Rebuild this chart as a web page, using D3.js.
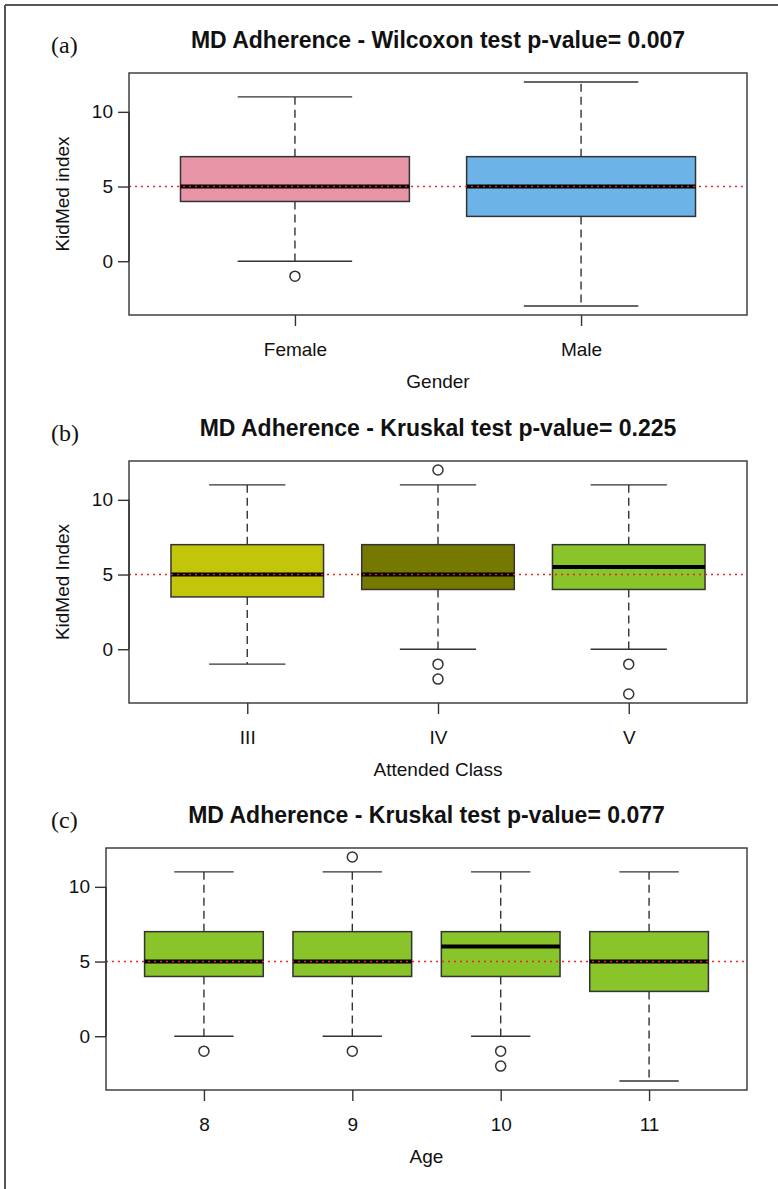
<!DOCTYPE html>
<html><head><meta charset="utf-8">
<script src="https://cdn.jsdelivr.net/npm/d3@7"></script>
<style>body{margin:0;background:#fff}svg{display:block}</style>
</head><body>
<svg id="c" width="778" height="1189"></svg>
<script>
// ---- data ----
const panelLetters = ["(a)", "(b)", "(c)"];
const titles = [
  "MD Adherence - Wilcoxon test p-value= 0.007",
  "MD Adherence - Kruskal test p-value= 0.225",
  "MD Adherence - Kruskal test p-value= 0.077"
];
const xTitles = ["Gender", "Attended Class", "Age"];
const yTitles = ["KidMed index", "KidMed Index", ""];
const yTicks = [0, 5, 10];

const genderCats = ["Female", "Male"];
// [lowWhisker, q1, median, q3, highWhisker]
const genderStats = [[0, 4, 5, 7, 11], [-3, 3, 5, 7, 12]];
const genderOut = [[-1], []];
const genderColors = ["#E896A7", "#6CB4E8"];

const classCats = ["III", "IV", "V"];
const classStats = [[-1, 3.5, 5, 7, 11], [0, 4, 5, 7, 11], [0, 4, 5.5, 7, 11]];
const classOut = [[], [12, -1, -2], [-1, -3]];
const classColors = ["#C2C50A", "#767900", "#88C42A"];

const ageCats = ["8", "9", "10", "11"];
const ageStats = [[0, 4, 5, 7, 11], [0, 4, 5, 7, 11], [0, 4, 6, 7, 11], [-3, 3, 5, 7, 11]];
const ageOut = [[-1], [12, -1], [-1, -2], []];
const ageColors = ["#88C42A", "#88C42A", "#88C42A", "#88C42A"];

const refLine = 5;
const yDomain = [-3.6, 12.6];

// ---- layout ----
const panels = [
  {cats: genderCats, stats: genderStats, out: genderOut, colors: genderColors, left: 129, top: 73},
  {cats: classCats, stats: classStats, out: classOut, colors: classColors, left: 129, top: 461},
  {cats: ageCats, stats: ageStats, out: ageOut, colors: ageColors, left: 106, top: 848}
];
const right = 747, plotH = 242;
const svg = d3.select("#c");
const sans = "Liberation Sans, Arial, Helvetica, sans-serif";
const ink = "#333";
const fs = 19;

// outer frame (cropped)
svg.append("line").attr("x1", 5).attr("x2", 778).attr("y1", 5).attr("y2", 5).attr("stroke", "#555").attr("stroke-width", 2);
svg.append("line").attr("x1", 5).attr("x2", 5).attr("y1", 5).attr("y2", 1189).attr("stroke", "#555").attr("stroke-width", 2);

panels.forEach((p, i) => {
  const n = p.cats.length;
  const top = p.top, bottom = top + plotH, left = p.left;
  const x = d3.scaleLinear().domain([0.5 - 0.04 * n, n + 0.5 + 0.04 * n]).range([left, right]);
  const y = d3.scaleLinear().domain(yDomain).range([bottom, top]);
  const unit = x(2) - x(1);
  const bw = 0.8 * unit, sw = 0.4 * unit;
  const g = svg.append("g");

  // letter + title
  g.append("text").attr("x", 51).attr("y", top - 20).attr("font-family", "Liberation Serif, Times New Roman, serif")
    .attr("font-size", 24).attr("fill", "#111").text(panelLetters[i]);
  g.append("text").attr("x", (left + right) / 2).attr("y", top - 25).attr("text-anchor", "middle")
    .attr("font-family", sans).attr("font-weight", "bold").attr("font-size", 23).attr("fill", "#111").text(titles[i]);

  // boxes
  p.stats.forEach((s, k) => {
    const cx = x(k + 1);
    // whiskers
    g.append("line").attr("x1", cx).attr("x2", cx).attr("y1", y(s[3])).attr("y2", y(s[4]))
      .attr("stroke", ink).attr("stroke-width", 1.4).attr("stroke-dasharray", "8,5");
    g.append("line").attr("x1", cx).attr("x2", cx).attr("y1", y(s[1])).attr("y2", y(s[0]))
      .attr("stroke", ink).attr("stroke-width", 1.4).attr("stroke-dasharray", "8,5");
    // staples
    [s[0], s[4]].forEach(v => g.append("line").attr("x1", cx - sw / 2).attr("x2", cx + sw / 2)
      .attr("y1", y(v)).attr("y2", y(v)).attr("stroke", ink).attr("stroke-width", 1.4));
    // box
    g.append("rect").attr("x", cx - bw / 2).attr("width", bw).attr("y", y(s[3])).attr("height", y(s[1]) - y(s[3]))
      .attr("fill", p.colors[k]).attr("stroke", ink).attr("stroke-width", 1.5);
    // median
    g.append("line").attr("x1", cx - bw / 2).attr("x2", cx + bw / 2).attr("y1", y(s[2])).attr("y2", y(s[2]))
      .attr("stroke", "#000").attr("stroke-width", 4);
    // outliers
    p.out[k].forEach(v => g.append("circle").attr("cx", cx).attr("cy", y(v)).attr("r", 5)
      .attr("fill", "none").attr("stroke", ink).attr("stroke-width", 1.5));
  });

  // reference line
  g.append("line").attr("x1", left).attr("x2", right).attr("y1", y(refLine)).attr("y2", y(refLine))
    .attr("stroke", "#E8262A").attr("stroke-width", 1.5).attr("stroke-dasharray", "2,4");

  // frame
  g.append("rect").attr("x", left).attr("y", top).attr("width", right - left).attr("height", plotH)
    .attr("fill", "none").attr("stroke", ink).attr("stroke-width", 1.4);

  // y axis
  const ya = d3.axisLeft(y).tickValues(yTicks).tickSize(11).tickPadding(5).tickFormat(d3.format("d"));
  const yg = g.append("g").attr("transform", `translate(${left},0)`).call(ya);
  yg.select(".domain").attr("d", `M0,${y(0)}V${y(10)}`).attr("stroke", ink).attr("stroke-width", 1.4);
  yg.selectAll(".tick line").attr("stroke", ink).attr("stroke-width", 1.4);
  yg.selectAll(".tick text").attr("font-family", sans).attr("font-size", fs).attr("fill", "#111");

  // x axis
  const xa = d3.axisBottom(x).tickValues(d3.range(1, n + 1)).tickSize(11).tickPadding(17)
    .tickFormat(d => p.cats[d - 1]);
  const xg = g.append("g").attr("transform", `translate(0,${bottom})`).call(xa);
  xg.select(".domain").remove();
  xg.selectAll(".tick line").attr("stroke", ink).attr("stroke-width", 1.4);
  xg.selectAll(".tick text").attr("font-family", sans).attr("font-size", fs).attr("fill", "#111");

  // axis titles
  g.append("text").attr("x", (left + right) / 2).attr("y", bottom + 73).attr("text-anchor", "middle")
    .attr("font-family", sans).attr("font-size", fs).attr("fill", "#111").text(xTitles[i]);
  if (yTitles[i]) {
    g.append("text").attr("transform", `translate(69,${(top + bottom) / 2}) rotate(-90)`).attr("text-anchor", "middle")
      .attr("font-family", sans).attr("font-size", fs).attr("fill", "#111").text(yTitles[i]);
  }
});
</script>
</body></html>
